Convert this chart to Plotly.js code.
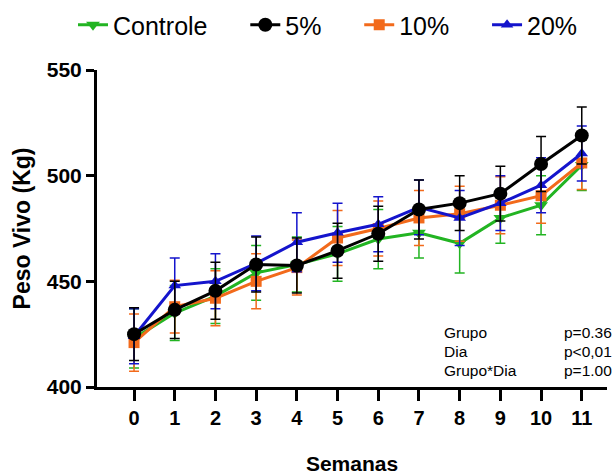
<!DOCTYPE html>
<html>
<head>
<meta charset="utf-8">
<script src="https://cdn.plot.ly/plotly-3.0.1.min.js"></script>
<style>html,body{margin:0;padding:0;background:#fff;}#chart{width:615px;height:475px;}</style>
</head>
<body>
<div id="chart"></div>
<script>
const weeks = [0, 1, 2, 3, 4, 5, 6, 7, 8, 9, 10, 11];
const tickLabels = ["0", "1", "2", "3", "4", "5", "6", "7", "8", "9", "10", "11"];
const yTicks = [400, 450, 500, 550];
const controle = [423, 435, 443, 454, 458, 463, 470, 473, 468, 480, 486, 505];
const pct5 = [425, 436.5, 445.5, 458, 457.5, 464.5, 472.5, 484, 487, 491.5, 505.5, 519];
const pct10 = [421, 438, 442, 450, 456.5, 470.5, 475, 480, 482, 486, 490.5, 506];
const pct20 = [424, 448, 450, 458.5, 468.5, 473, 477, 485, 480, 487, 495.5, 510.5];
const errControle = [14, 13, 13, 13, 13, 13, 14, 12, 14, 12, 14, 12];
const err5 = [12.5, 13.5, 13.5, 13, 13, 13, 13, 14, 13, 13, 13, 13.5];
const err10 = [13.5, 12.5, 13, 13, 13, 13, 13, 13, 13, 13.5, 13, 12.5];
const err20 = [13, 13, 13, 13, 14, 14, 13, 13, 13, 13, 13, 13];
const statLabels = ["Grupo", "Dia", "Grupo*Dia"];
const statValues = ["p=0.36", "p<0,01", "p=1.00"];

const FONT = "Arial, 'Liberation Sans', sans-serif";
const PAD = '\u00a0\u00a0\u00a0\u00a0\u2009';
const T = 70, B = 387, L = 97, R = 607;

function mk(name, y, err, color, symbol, size, rank) {
  return {
    type: 'scatter', mode: 'lines+markers', name: name + PAD, x: weeks, y: y,
    line: {color: color, width: 3},
    marker: {color: color, symbol: symbol, size: size},
    error_y: {type: 'data', array: err, visible: true, color: color, thickness: 1.5, width: 5},
    legendrank: rank
  };
}

const traces = [
  mk('Controle', controle, errControle, '#22B422', 'triangle-down', 12, 1),
  mk('10%', pct10, err10, '#F26A1B', 'square', 11, 3),
  mk('20%', pct20, err20, '#1414CC', 'triangle-up', 11, 4),
  mk('5%', pct5, err5, '#000000', 'circle', 14, 2)
];

const annotations = [];
statLabels.forEach((t, i) => {
  const yy = (B - (332 + i * 19)) / (B - T);
  annotations.push({xref: 'paper', yref: 'paper', x: (442 - L) / (R - L), y: yy,
    text: t, showarrow: false, xanchor: 'left', yanchor: 'middle', font: {family: FONT, size: 15.5, color: '#000'}});
  annotations.push({xref: 'paper', yref: 'paper', x: (614 - L) / (R - L), y: yy,
    text: statValues[i], showarrow: false, xanchor: 'right', yanchor: 'middle', font: {family: FONT, size: 15.5, color: '#000'}});
});

const layout = {
  width: 615, height: 475,
  margin: {l: L, r: 615 - R, t: T, b: 475 - B, autoexpand: false},
  paper_bgcolor: '#fff', plot_bgcolor: '#fff',
  font: {family: FONT, color: '#000'},
  showlegend: true,
  legend: {orientation: 'h', xref: 'paper', yref: 'paper', x: (73 - L) / (R - L), y: (B - 25) / (B - T),
    xanchor: 'left', yanchor: 'middle',
    font: {family: FONT, size: 25, color: '#000'}, traceorder: 'normal'},
  xaxis: {
    range: [-0.91, 11.62], tickmode: 'array', tickvals: weeks, ticktext: tickLabels.map(t => '<b>' + t + '</b>'),
    showgrid: false, zeroline: false, showline: true, linecolor: '#000', linewidth: 3,
    ticks: 'outside', ticklen: 11, tickwidth: 3, tickcolor: '#000',
    tickfont: {family: FONT, size: 20, color: '#000'},
    title: {text: '<b>Semanas</b>', font: {family: FONT, size: 21, color: '#000'}, standoff: 30}
  },
  yaxis: {
    range: [400, 550], tickmode: 'array', tickvals: yTicks, ticktext: yTicks.map(t => '<b>' + t + '</b>'),
    showgrid: false, zeroline: false, showline: true, linecolor: '#000', linewidth: 3,
    ticks: 'outside', ticklen: 8, tickwidth: 3, tickcolor: '#000',
    tickfont: {family: FONT, size: 21, color: '#000'},
    title: {text: '<b>Peso Vivo (Kg)</b>', font: {family: FONT, size: 23, color: '#000'}, standoff: 10}
  },
  annotations: annotations
};

Plotly.newPlot('chart', traces, layout, {displayModeBar: false, staticPlot: true});
</script>
</body>
</html>
